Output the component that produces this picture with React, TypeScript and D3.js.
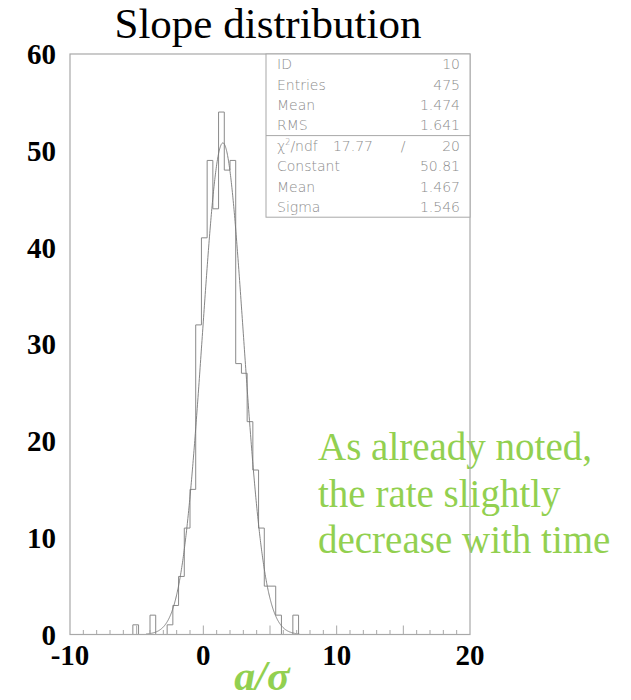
import React from "react";
import * as d3 from "d3";

// Histogram spec and contents (70 bins from -10 to 20)
const histMin = -10;
const histMax = 20;
const nBins = 70;
const firstFilledBin = 11;
const binCounts = [1, 0, 0, 2, 0, 0, 1, 3, 6, 11, 15, 32, 41, 49, 44, 54, 48, 49, 28, 27, 22, 17, 11, 5, 5, 2, 0, 0, 2];

// Gaussian fit parameters
const fitConstant = 50.81;
const fitMean = 1.467;
const fitSigma = 1.546;
const fitRange = [-4.3, 7.2];

const xTickLabels = [-10, 0, 10, 20];
const yTickLabels = [0, 10, 20, 30, 40, 50, 60];

const statsTop = [
  ["ID", "10"],
  ["Entries", "475"],
  ["Mean", "1.474"],
  ["RMS", "1.641"],
];
const statsFit = [
  ["Constant", "50.81"],
  ["Mean", "1.467"],
  ["Sigma", "1.546"],
];
const chi2 = "17.77";
const ndf = "20";

const noteLines = ["As already noted,", "the rate slightly", "decrease with time"];

export default function App() {
  const W = 631, H = 700;
  const left = 70, right = 470, top = 54, bottom = 634.5;
  const x = d3.scaleLinear().domain([histMin, histMax]).range([left, right]);
  const y = d3.scaleLinear().domain([0, 60]).range([bottom, top]);
  const bw = (histMax - histMin) / nBins;

  const counts: number[] = new Array(nBins).fill(0);
  binCounts.forEach((c, i) => (counts[firstFilledBin + i] = c));

  // step outline
  const pts: [number, number][] = [];
  pts.push([x(histMin), y(0)]);
  counts.forEach((c, i) => {
    const x0 = histMin + i * bw;
    pts.push([x(x0), y(c)]);
    pts.push([x(x0 + bw), y(c)]);
  });
  pts.push([x(histMax), y(0)]);
  const histPath = d3.line()(pts) as string;

  const fitXs = d3.range(fitRange[0], fitRange[1] + 1e-9, 0.02);
  const fitPath = d3
    .line<number>()
    .x((v) => x(v))
    .y((v) => y(fitConstant * Math.exp(-0.5 * ((v - fitMean) / fitSigma) ** 2)))
    .curve(d3.curveLinear)(fitXs) as string;

  const minorTicks = d3.range(histMin + 1, histMax, 1);

  const axisColor = "#a8a8a8";
  const statColor = "#8c8c8c";
  const green = "#92D050";

  const boxL = 266, boxR = 470, boxT = 54, rowH = 20.4;
  const labelX = boxL + 11, valueX = boxR - 10;

  return (
    <svg width={W} height={H} style={{ position: "absolute", left: 0, top: 0, background: "#fff" }}>
      <text x={268} y={38} textAnchor="middle" fontFamily="Liberation Serif" fontSize={43} fill="#000">
        Slope distribution
      </text>

      {/* note */}
      {noteLines.map((t, i) => (
        <text key={i} x={318} y={460 + i * 46.5} fontFamily="Liberation Serif" fontSize={39} fill={green}>
          {t}
        </text>
      ))}

      {/* histogram */}
      <path d={histPath} fill="none" stroke="#8a8a8a" strokeWidth={1} />
      <path d={fitPath} fill="none" stroke="#777" strokeWidth={0.9} />

      {/* frame */}
      <rect x={left} y={top} width={right - left} height={bottom - top} fill="none" stroke={axisColor} strokeWidth={1.2} />
      {minorTicks.map((t) => (
        <line key={t} x1={x(t)} x2={x(t)} y1={bottom} y2={bottom - (t % 5 === 0 ? 9 : 4.5)} stroke={axisColor} strokeWidth={1} />
      ))}

      {/* stats box */}
      <rect x={boxL} y={boxT} width={boxR - boxL} height={rowH * 8} fill="#fff" stroke={axisColor} strokeWidth={1} />
      <line x1={boxL} x2={boxR} y1={boxT + rowH * 4} y2={boxT + rowH * 4} stroke={axisColor} strokeWidth={1} />
      <g fontFamily="DejaVu Sans" fontWeight={200} fontSize={14} fill={statColor}>
        {statsTop.map(([l, v], i) => (
          <g key={"t" + i}>
            <text x={labelX} y={boxT + rowH * (i + 0.5) + 5}>{l}</text>
            <text x={valueX} y={boxT + rowH * (i + 0.5) + 5} textAnchor="end">{v}</text>
          </g>
        ))}
        <text x={labelX} y={boxT + rowH * 4.5 + 5}>
          χ<tspan dy={-6} fontSize={8}>2</tspan><tspan dy={6}>/ndf</tspan>
        </text>
        <text x={373} y={boxT + rowH * 4.5 + 5} textAnchor="end">{chi2}</text>
        <text x={403} y={boxT + rowH * 4.5 + 5} textAnchor="middle">/</text>
        <text x={valueX} y={boxT + rowH * 4.5 + 5} textAnchor="end">{ndf}</text>
        {statsFit.map(([l, v], i) => (
          <g key={"f" + i}>
            <text x={labelX} y={boxT + rowH * (i + 5.5) + 5}>{l}</text>
            <text x={valueX} y={boxT + rowH * (i + 5.5) + 5} textAnchor="end">{v}</text>
          </g>
        ))}
      </g>

      {/* axis labels */}
      <g fontFamily="Liberation Serif" fontWeight="bold" fontSize={29} fill="#000">
        {yTickLabels.map((t) => (
          <text key={t} x={56} y={y(t) + 10} textAnchor="end">{t}</text>
        ))}
        {xTickLabels.map((t) => (
          <text key={t} x={x(t)} y={665} textAnchor="middle">{t}</text>
        ))}
      </g>

      <text x={262} y={690} textAnchor="middle" fontFamily="Liberation Serif" fontWeight="bold" fontStyle="italic" fontSize={42} fill={green}>
        a/σ
      </text>
    </svg>
  );
}
